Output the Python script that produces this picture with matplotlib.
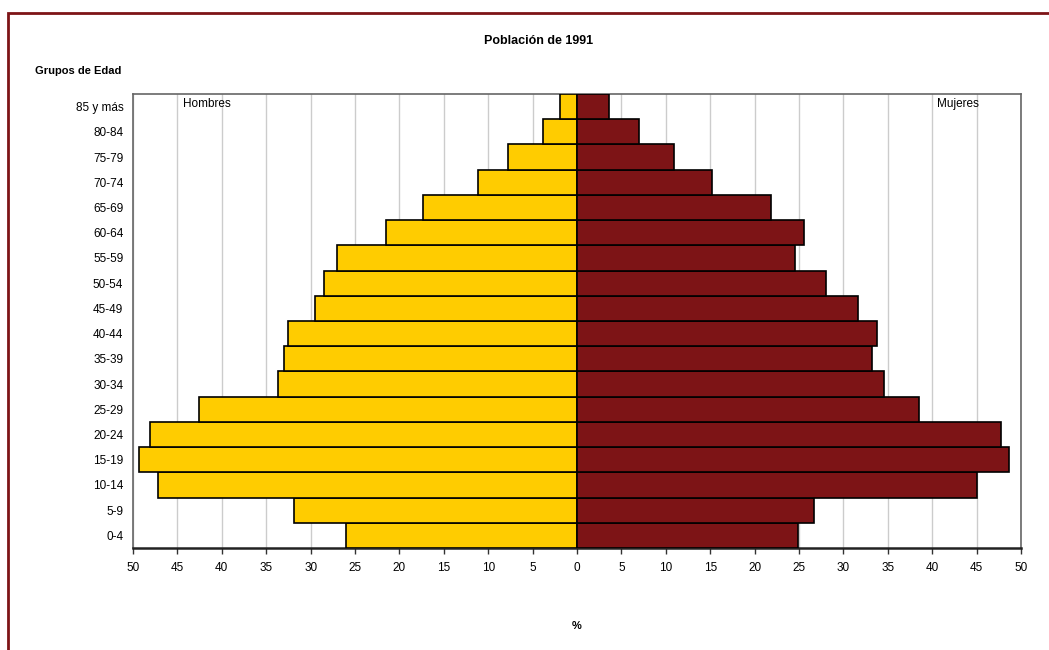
import matplotlib.pyplot as plt
from matplotlib.patches import Rectangle
import numpy as np

plt.rcParams['font.family'] = ['Liberation Sans', 'DejaVu Sans']

# age groups from bottom to top
grupos = ["0-4", "5-9", "10-14", "15-19", "20-24", "25-29", "30-34", "35-39",
          "40-44", "45-49", "50-54", "55-59", "60-64", "65-69", "70-74",
          "75-79", "80-84", "85 y más"]
hombres = [26.0, 31.9, 47.2, 49.3, 48.1, 42.6, 33.7, 33.0, 32.5, 29.5,
           28.5, 27.0, 21.5, 17.3, 11.1, 7.8, 3.8, 1.9]
mujeres = [24.9, 26.7, 45.0, 48.6, 47.8, 38.5, 34.6, 33.2, 33.8, 31.6,
           28.0, 24.6, 25.6, 21.8, 15.2, 10.9, 7.0, 3.6]
ticks = np.arange(-50, 51, 5)

fig = plt.figure(figsize=(10.49, 6.5), dpi=100)
ax = fig.add_axes([133 / 1049, 1 - 548 / 650, 888 / 1049, 454 / 650])

y = np.arange(len(grupos))
ax.barh(y, [-v for v in hombres], height=1.0, color="#FFCC00",
        edgecolor="black", linewidth=1.2, zorder=3)
ax.barh(y, mujeres, height=1.0, color="#7D1416",
        edgecolor="black", linewidth=1.2, zorder=3)

ax.set_xlim(-50, 50)
ax.set_ylim(-0.5, len(grupos) - 0.5)
ax.set_xticks(ticks)
ax.set_xticklabels([str(abs(t)) for t in ticks], fontsize=8.5)
ax.set_yticks(y)
ax.set_yticklabels(grupos, fontsize=8.5)
ax.tick_params(axis="y", length=0, pad=7)
ax.tick_params(axis="x", direction="out", length=4, width=1, color="#333333", pad=6)
ax.grid(axis="x", color="#CCCCCC", linewidth=1, zorder=0)
for s in ax.spines.values():
    s.set_color("#666666")
    s.set_linewidth(1.2)
ax.spines["bottom"].set_color("#222222")
ax.spines["bottom"].set_linewidth(1.8)

top = len(grupos) - 1
ax.text(-44.4, top + 0.1, "Hombres", fontsize=8.5, ha="left", va="center", zorder=4)
ax.text(45.2, top + 0.1, "Mujeres", fontsize=8.5, ha="right", va="center", zorder=4)

fig.text(539 / 1049, 1 - 41 / 650, "Población de 1991", fontsize=9,
         fontweight="bold", ha="center", va="center")
fig.text(35 / 1049, 1 - 71 / 650, "Grupos de Edad", fontsize=8,
         fontweight="bold", ha="left", va="center")
fig.text(577 / 1049, 1 - 626 / 650, "%", fontsize=8, fontweight="bold",
         ha="center", va="center")

# outer dark red frame
fig.patches.append(Rectangle((8 / 1049, -0.05), 1.2, 1 - 13 / 650 + 0.05,
                             transform=fig.transFigure, fill=False,
                             edgecolor="#7D1416", linewidth=2))

plt.savefig("out.png", dpi=100)
